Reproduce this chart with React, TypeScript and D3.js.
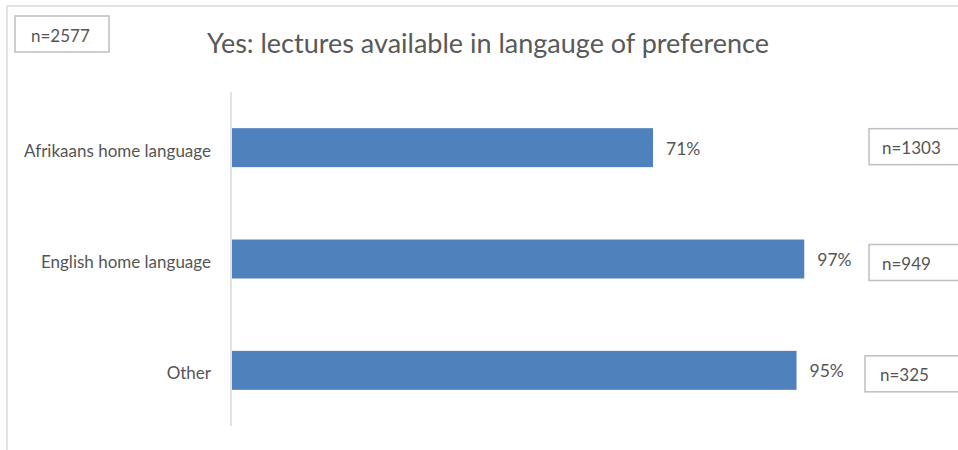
import React from "react";
import * as d3 from "d3";

const categories = ["Afrikaans home language", "English home language", "Other"];
const values = [71.0, 96.5, 95.2];
const nLabels = ["n=1303", "n=949", "n=325"];
const totalLabel = "n=2577";
const title = "Yes: lectures available in langauge of preference";

const W = 958;
const H = 450;
const FONT = "Lato, 'Open Sans', sans-serif";
const TEXT = "#555555";

export default function App() {
  const x = d3.scaleLinear().domain([0, 100]).range([232, 825]);
  const y = d3.scaleBand<string>().domain(categories).range([92, 426]).paddingInner(0.65).paddingOuter(0.325);
  const bw = y.bandwidth();
  const nBoxX = [869, 869, 865];
  const nTextDx = [13, 13, 15];
  const nBoxDy = [-1, 3.5, 3.5];
  return (
    <svg width={W} height={H} style={{ position: "absolute", left: 0, top: 0, background: "#fff" }}>
      <rect x={0} y={0} width={W} height={H} fill="#fff" />
      {/* outer frame */}
      <line x1={7} y1={6} x2={W} y2={6} stroke="#d9d9d9" strokeWidth={1.5} />
      <line x1={7} y1={6} x2={7} y2={H} stroke="#d9d9d9" strokeWidth={1.5} />
      {/* total box */}
      <rect x={15} y={16} width={94} height={36} fill="#fff" stroke="#bfbfbf" strokeWidth={1.5} />
      <text x={31} y={41.5} fontFamily={FONT} fontSize={17} fill={TEXT}>{totalLabel}</text>
      {/* title */}
      <text x={488} y={53} textAnchor="middle" fontFamily={FONT} fontSize={27} fill="#595959">{title}</text>
      {/* bars */}
      {categories.map((c, i) => (
        <g key={c}>
          <rect x={x(0)} y={y(c)!} width={x(values[i]) - x(0)} height={bw} fill="#4f81bd" />
          <text x={x(values[i]) + 13} y={y(c)! + bw / 2 + 7} fontFamily={FONT} fontSize={17.5} fill={TEXT}>{Math.round(values[i])}%</text>
          <text x={211} y={y(c)! + bw / 2 + 9} textAnchor="end" fontFamily={FONT} fontSize={17} fill={TEXT}>{c}</text>
        </g>
      ))}
      {/* axis line */}
      <line x1={231} y1={92} x2={231} y2={426} stroke="#d9d9d9" strokeWidth={1.5} />
      {/* n boxes */}
      {categories.map((c, i) => {
        const cy = y(c)! + bw / 2 + nBoxDy[i];
        return (
          <g key={"n" + c}>
            <rect x={nBoxX[i]} y={cy - 18} width={W - nBoxX[i] + 10} height={36} fill="#fff" stroke="#bfbfbf" strokeWidth={1.5} />
            <text x={nBoxX[i] + nTextDx[i]} y={cy + 7} fontFamily={FONT} fontSize={17} fill={TEXT}>{nLabels[i]}</text>
          </g>
        );
      })}
    </svg>
  );
}
